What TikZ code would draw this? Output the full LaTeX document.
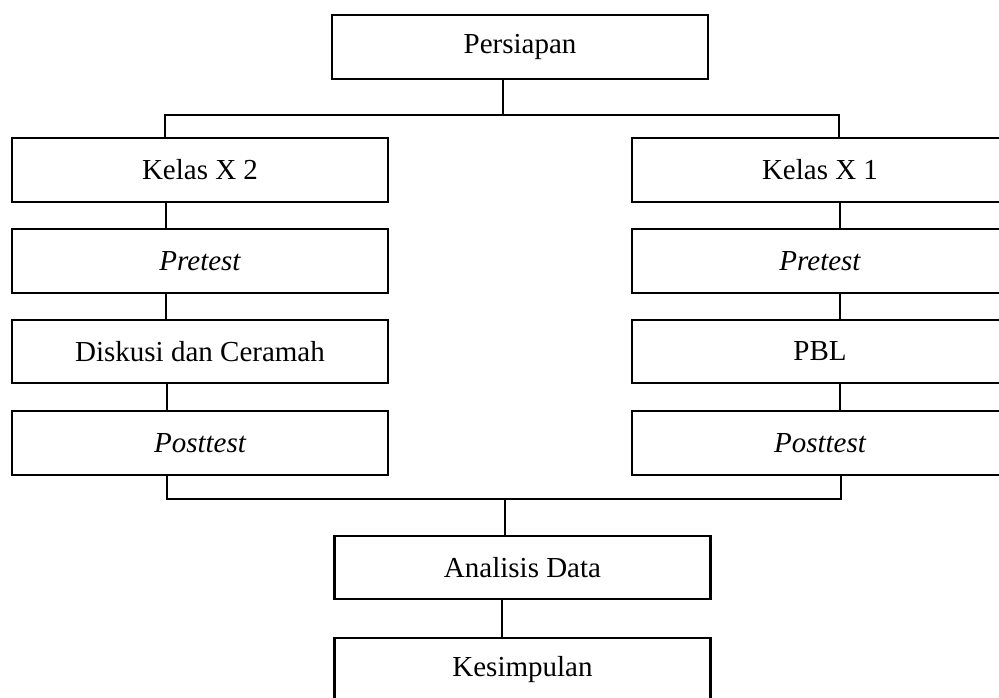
\documentclass[tikz,border=0pt]{standalone}
\usepackage{fontspec}
\setmainfont{Liberation Serif}
\begin{document}
\begin{tikzpicture}[x=1pt,y=-1pt,
  box/.style={draw=black,line width=2.3pt,minimum width=376pt,minimum height=63.5pt,inner sep=0pt,
    font=\fontsize{29}{34}\selectfont},
  conn/.style={draw=black,line width=1.1pt}]
\clip (0,0) rectangle (999,698);
\fill[white] (0,0) rectangle (999,698);
% nodes
\node[box] (persiapan) at (520,47) {Persiapan};
\node[box] (k2) at (200,170) {Kelas X 2};
\node[box] (pre2) at (200,261) {\itshape Pretest};
\node[box] (disk) at (200,351.5) {Diskusi dan Ceramah};
\node[box] (post2) at (200,443) {\itshape Posttest};
\node[box] (k1) at (820,170) {Kelas X 1};
\node[box] (pre1) at (820,261) {\itshape Pretest};
\node[box] (pbl) at (820,351.5) {PBL};
\node[box] (post1) at (820,443) {\itshape Posttest};
\node[box] (ana) at (522.5,567.5) {Analisis Data};
\node[box] (kes) at (522.5,670) {Kesimpulan};
% junctions
\coordinate (jt) at (503,115);
\coordinate (tl) at (165,115);
\coordinate (tr) at (839,115);
\coordinate (lc) at (166,0);
\coordinate (rc) at (840,0);
\coordinate (bl) at (167,499);
\coordinate (br) at (841,499);
\coordinate (bm) at (505,499);
\coordinate (mc) at (502,0);
% connectors
\draw[conn] (persiapan.south -| jt) -- (jt);
\draw[conn] (tl |- k2.north) -- (tl) -- (tr) -- (tr |- k1.north);
\draw[conn] (k2.south -| lc) -- (pre2.north -| lc);
\draw[conn] (pre2.south -| lc) -- (disk.north -| lc);
\draw[conn] (disk.south -| bl) -- (post2.north -| bl);
\draw[conn] (k1.south -| rc) -- (pre1.north -| rc);
\draw[conn] (pre1.south -| rc) -- (pbl.north -| rc);
\draw[conn] (pbl.south -| rc) -- (post1.north -| rc);
\draw[conn] (post2.south -| bl) -- (bl) -- (br) -- (post1.south -| br);
\draw[conn] (bm) -- (bm |- ana.north);
\draw[conn] (ana.south -| mc) -- (kes.north -| mc);
\end{tikzpicture}
\end{document}
